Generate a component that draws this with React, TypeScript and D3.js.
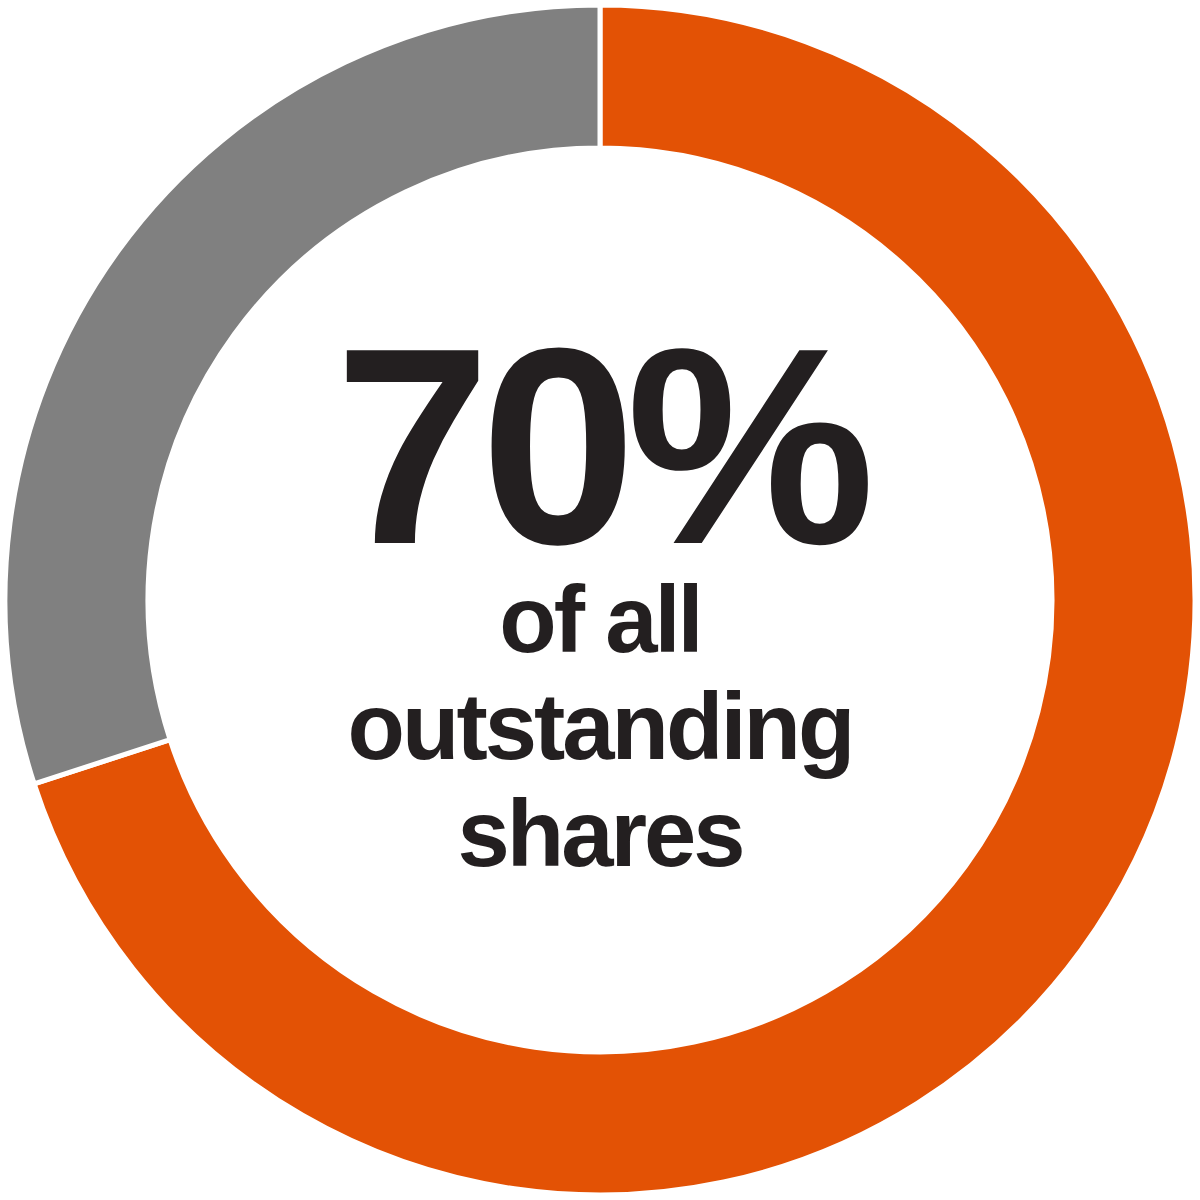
import React, { useEffect, useRef } from 'react';
import * as d3 from 'd3';

// share of outstanding shares
const labels = ['Held', 'Other'];
const values = [70, 30];
const colors = ['#E35205', '#808080'];
const headline = '70%';
const subLines = ['of all', 'outstanding', 'shares'];

const App = () => {
  const ref = useRef<SVGSVGElement>(null);

  useEffect(() => {
    const width = 1200;
    const height = 1200;
    const outer = 595;
    const inner = 452;
    const svg = d3.select(ref.current);
    svg.selectAll('*').remove();

    const g = svg.append('g').attr('transform', `translate(${width / 2},${height / 2})`);

    const pie = d3.pie<number>().sort(null).value(d => d);
    const arc = d3.arc<d3.PieArcDatum<number>>().innerRadius(inner).outerRadius(outer);

    g.selectAll('path')
      .data(pie(values))
      .join('path')
      .attr('d', arc)
      .attr('fill', (d, i) => colors[i])
      .attr('stroke', '#fff')
      .attr('stroke-width', 5)
      .append('title')
      .text((d, i) => labels[i]);

    // centre text
    g.append('text')
      .attr('x', 0)
      .attr('y', -57)
      .attr('text-anchor', 'middle')
      .attr('font-family', '"Liberation Sans", Arial, sans-serif')
      .attr('font-weight', 'bold')
      .attr('font-size', 280)
      .attr('letter-spacing', -10)
      .attr('fill', '#231F20')
      .text(headline);

    g.selectAll('text.sub')
      .data(subLines)
      .join('text')
      .attr('class', 'sub')
      .attr('x', 0)
      .attr('y', (d, i) => 52 + i * 107)
      .attr('text-anchor', 'middle')
      .attr('font-family', '"Liberation Sans", Arial, sans-serif')
      .attr('font-weight', 'bold')
      .attr('font-size', 94)
      .attr('letter-spacing', -3)
      .attr('fill', '#231F20')
      .text(d => d);
  }, []);

  return (
    <svg
      ref={ref}
      width={1200}
      height={1200}
      style={{ position: 'absolute', left: 0, top: 0, background: '#fff' }}
    />
  );
};

export default App;
